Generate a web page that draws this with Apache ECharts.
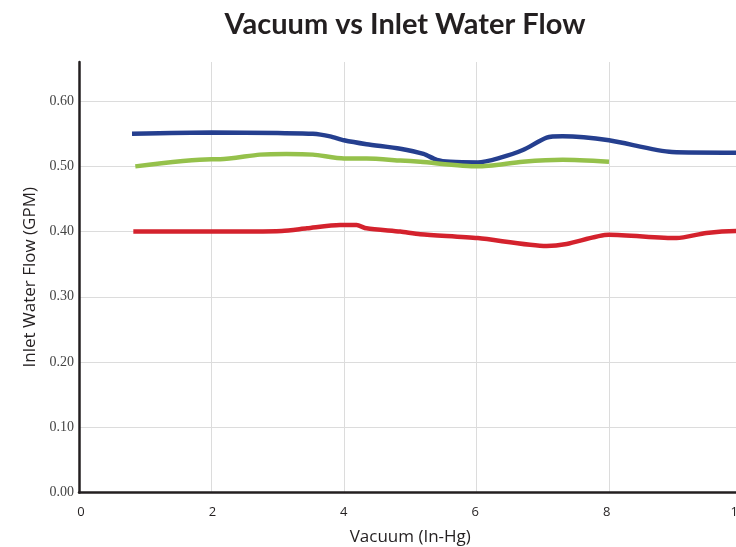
<!DOCTYPE html>
<html>
<head>
<meta charset="utf-8">
<script src="https://cdn.jsdelivr.net/npm/echarts@6/dist/echarts.min.js"></script>
<style>html,body{margin:0;padding:0;background:#fff;}#c{width:736px;height:547px;}</style>
</head>
<body>
<div id="c"></div>
<script>
const titleText = 'Vacuum vs Inlet Water Flow';
const xName = 'Vacuum (In-Hg)';
const yName = 'Inlet Water Flow (GPM)';

const blueData = [[0.8,0.550],[2,0.552],[3,0.551],[3.53,0.550],[3.79,0.546],[4,0.540],[4.34,0.534],[4.85,0.527],[5.2,0.519],[5.4,0.510],[5.6,0.507],[6.02,0.506],[6.35,0.513],[6.7,0.525],[7.06,0.544],[7.3,0.546],[8,0.540],[8.95,0.522],[9.92,0.521],[10,0.521]];
const greenData = [[0.85,0.500],[2,0.511],[2.13,0.511],[2.73,0.518],[3.13,0.519],[3.53,0.518],[4,0.512],[4.34,0.512],[4.85,0.509],[5.15,0.507],[6.02,0.500],[6.7,0.507],[7.3,0.510],[8.0,0.507]];
const redData = [[0.82,0.400],[2,0.400],[3.06,0.401],[3.44,0.405],[3.94,0.410],[4.19,0.410],[4.34,0.405],[4.85,0.400],[5.15,0.396],[6.02,0.390],[7.06,0.378],[7.36,0.381],[8,0.395],[9.02,0.390],[9.47,0.398],[9.92,0.401],[10,0.401]];

const chart = echarts.init(document.getElementById('c'), null, {renderer:'canvas'});
const mk = (data, color) => ({
  type:'line', data, smooth:0.25, showSymbol:false, symbol:'none',
  lineStyle:{color, width:4.5}, itemStyle:{color}, clip:true
});
chart.setOption({
  animation:false,
  title:{text:titleText, left:400, top:5, textAlign:'center',
    textStyle:{fontFamily:'Lato', fontWeight:'bold', fontSize:29, color:'#231f20'}},
  grid:[
    {left:79, right:-5.5, top:62, bottom:54.5, containLabel:false, outerBoundsMode:'none'},
    {left:81, right:-2, top:62, bottom:54.5, containLabel:false, outerBoundsMode:'none'}
  ],
  xAxis:[{type:'value', min:0, max:10, interval:2, gridIndex:0,
    name:xName, nameLocation:'middle', nameGap:36,
    nameTextStyle:{fontFamily:'Open Sans', fontSize:17, color:'#231f20'},
    axisLine:{lineStyle:{color:'#231f20', width:2.5}},
    axisTick:{show:false},
    axisLabel:{show:false},
    splitLine:{show:true, showMinLine:false, lineStyle:{color:'#dcdcdc', width:1}}
  },{type:'value', min:0, max:10, interval:2, gridIndex:1,
    axisLine:{show:false}, axisTick:{show:false}, splitLine:{show:false},
    axisLabel:{fontFamily:'Open Sans', fontSize:13, color:'#231f20', margin:13,
      showMaxLabel:true, showMinLabel:true, hideOverlap:false}
  }],
  yAxis:[{type:'value', min:0, max:0.66, interval:0.1, gridIndex:0,
    name:yName, nameLocation:'middle', nameGap:40,
    nameTextStyle:{fontFamily:'Open Sans', fontSize:17, color:'#231f20'},
    axisLine:{show:true, lineStyle:{color:'#231f20', width:2.5}},
    axisTick:{show:false},
    axisLabel:{fontFamily:'Liberation Serif', fontSize:14, color:'#444', margin:5,
      formatter:v => (Math.abs(v-0.66)<1e-6 ? '' : v.toFixed(2)), showMaxLabel:false},
    splitLine:{show:true, showMinLine:false, showMaxLine:false, lineStyle:{color:'#dcdcdc', width:1}}
  },{type:'value', min:0, max:0.66, gridIndex:1, show:false}],
  series:[mk(blueData,'#253f8f'), mk(greenData,'#95c14b'), mk(redData,'#d4222d')]
});
</script>
</body>
</html>
